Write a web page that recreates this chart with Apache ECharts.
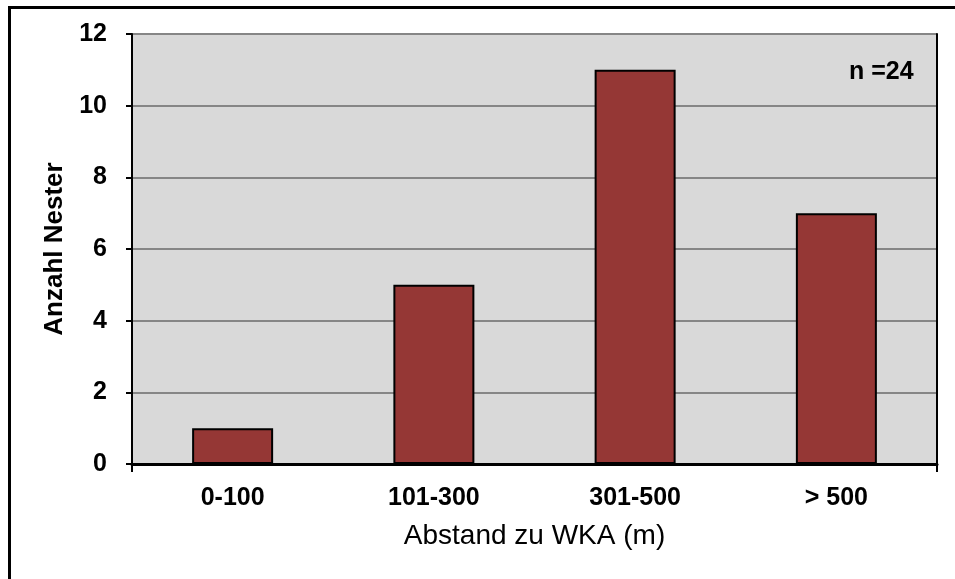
<!DOCTYPE html>
<html>
<head>
<meta charset="utf-8">
<script src="https://cdn.jsdelivr.net/npm/echarts@6/dist/echarts.min.js"></script>
<style>
  html, body { margin: 0; padding: 0; background: #fff; }
  #chart { width: 955px; height: 579px; }
</style>
</head>
<body>
<div id="chart"></div>
<script>
const categories = ['0-100', '101-300', '301-500', '> 500'];
const nests = [1, 5, 11, 7];
const yTicks = [0, 2, 4, 6, 8, 10, 12];
const sampleNote = 'n =24';

const chart = echarts.init(document.getElementById('chart'));
const font = '"Liberation Sans", Arial, sans-serif';

chart.setOption({
  animation: false,
  graphic: [
    {
      // outer frame (only top and left are visible in the picture)
      type: 'rect',
      left: 7, top: 5,
      shape: { width: 2000, height: 2000 },
      style: { fill: 'none', stroke: '#000', lineWidth: 3 }
    },
    {
      type: 'text',
      left: 849, top: 60,
      style: { text: sampleNote, font: 'bold 25px ' + font, fill: '#000' }
    }
  ],
  grid: {
    left: 132, right: 18, top: 34, bottom: 115,
    show: true,
    backgroundColor: '#d9d9d9',
    borderWidth: 0
  },
  xAxis: {
    type: 'category',
    data: categories,
    name: 'Abstand zu WKA (m)',
    nameLocation: 'middle',
    nameGap: 58,
    nameTextStyle: { fontFamily: font, fontSize: 28, color: '#000' },
    axisLine: { lineStyle: { color: '#000', width: 3 } },
    axisTick: {
      show: true, length: 8,
      interval: (i) => i === 0 || i === categories.length,
      lineStyle: { color: '#000', width: 2 }
    },
    axisLabel: {
      margin: 22, fontFamily: font, fontSize: 25, fontWeight: 'bold', color: '#000'
    }
  },
  yAxis: [
    {
      type: 'value',
      min: yTicks[0], max: yTicks[yTicks.length - 1], interval: 2,
      name: 'Anzahl Nester',
      nameLocation: 'middle',
      nameGap: 61,
      nameTextStyle: { fontFamily: font, fontSize: 26, fontWeight: 'bold', color: '#000' },
      axisLine: { show: true, lineStyle: { color: '#000', width: 2 } },
      axisTick: { show: true, length: 6, lineStyle: { color: '#000', width: 2 } },
      axisLabel: { margin: 25, fontFamily: font, fontSize: 25, fontWeight: 'bold', color: '#000' },
      splitLine: { show: true, lineStyle: { color: '#868686', width: 2 } }
    },
    {
      type: 'value',
      position: 'right',
      min: yTicks[0], max: yTicks[yTicks.length - 1], interval: 2,
      axisLine: { show: true, lineStyle: { color: '#000', width: 2 } },
      axisTick: { show: false },
      axisLabel: { show: false },
      splitLine: { show: false }
    }
  ],
  series: [
    {
      type: 'bar',
      data: nests,
      barWidth: 81,
      itemStyle: { color: '#953735', borderColor: '#000', borderWidth: 2 }
    }
  ]
});
</script>
</body>
</html>
